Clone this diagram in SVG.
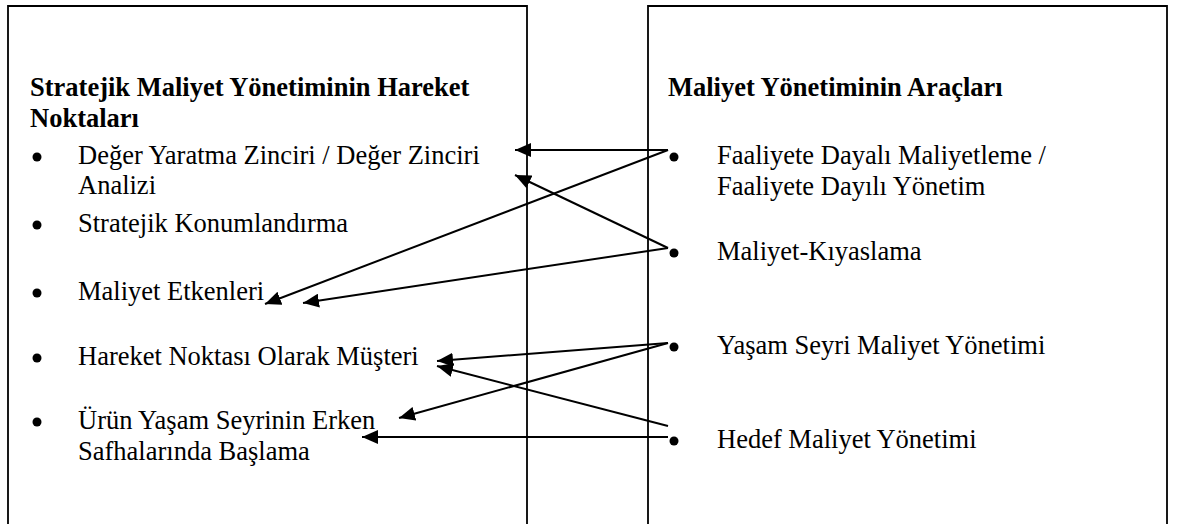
<svg xmlns="http://www.w3.org/2000/svg" width="1177" height="524" viewBox="0 0 1177 524">
  <style>
    .box { fill: #ffffff; stroke: #000000; stroke-width: 1.8; }
    .title { font-family: "Liberation Serif", "Times New Roman", serif; font-size: 26.5px; font-weight: bold; fill: #000000; }
    .item { font-family: "Liberation Serif", "Times New Roman", serif; font-size: 26.5px; fill: #000000; }
    .dot { fill: #000000; }
    .link { stroke: #000000; stroke-width: 2; fill: none; marker-end: url(#head); }
  </style>
  <defs>
    <marker id="head" viewBox="0 0 16 14" refX="16" refY="7" markerWidth="16" markerHeight="14" markerUnits="userSpaceOnUse" orient="auto">
      <path d="M0,0 L16,7 L0,14 Z" fill="#000000"/>
    </marker>
  </defs>

  <rect width="1177" height="524" fill="#ffffff"/>

  <!-- left panel: starting points of strategic cost management -->
  <g id="hareket-noktalari">
    <path class="box" d="M8,530 V6 H527 V530"/>
    <text class="title" x="30" y="96">Stratejik Maliyet Yönetiminin Hareket</text>
    <text class="title" x="30" y="127">Noktaları</text>
    <circle class="dot" cx="37" cy="157" r="4.5"/>
    <text class="item" x="78" y="164">Değer Yaratma Zinciri / Değer Zinciri</text>
    <text class="item" x="78" y="194">Analizi</text>
    <circle class="dot" cx="37" cy="225" r="4.5"/>
    <text class="item" x="78" y="232">Stratejik Konumlandırma</text>
    <circle class="dot" cx="37" cy="293" r="4.5"/>
    <text class="item" x="78" y="300">Maliyet Etkenleri</text>
    <circle class="dot" cx="37" cy="358" r="4.5"/>
    <text class="item" x="78" y="365">Hareket Noktası Olarak Müşteri</text>
    <circle class="dot" cx="37" cy="422" r="4.5"/>
    <text class="item" x="78" y="429">Ürün Yaşam Seyrinin Erken</text>
    <text class="item" x="78" y="460">Safhalarında Başlama</text>
  </g>

  <!-- right panel: cost management tools -->
  <g id="maliyet-araclari">
    <path class="box" d="M648,530 V6 H1167 V530"/>
    <text class="title" x="668" y="96">Maliyet Yönetiminin Araçları</text>
    <circle class="dot" cx="674" cy="157" r="4.5"/>
    <text class="item" x="717" y="164">Faaliyete Dayalı Maliyetleme /</text>
    <text class="item" x="717" y="195">Faaliyete Dayılı Yönetim</text>
    <circle class="dot" cx="674" cy="253" r="4.5"/>
    <text class="item" x="717" y="260">Maliyet-Kıyaslama</text>
    <circle class="dot" cx="674" cy="347" r="4.5"/>
    <text class="item" x="717" y="354">Yaşam Seyri Maliyet Yönetimi</text>
    <circle class="dot" cx="674" cy="441" r="4.5"/>
    <text class="item" x="717" y="448">Hedef Maliyet Yönetimi</text>
  </g>

  <!-- tool-to-starting-point connectors -->
  <g id="connectors">
    <line class="link" x1="668" y1="150" x2="515" y2="150"/>
    <line class="link" x1="668" y1="150" x2="265" y2="304"/>
    <line class="link" x1="668" y1="248" x2="515" y2="175"/>
    <line class="link" x1="668" y1="248" x2="303" y2="303"/>
    <line class="link" x1="668" y1="343" x2="437" y2="361"/>
    <line class="link" x1="668" y1="343" x2="399" y2="418"/>
    <line class="link" x1="668" y1="426" x2="437" y2="366"/>
    <line class="link" x1="668" y1="437" x2="362" y2="437"/>
  </g>
</svg>
